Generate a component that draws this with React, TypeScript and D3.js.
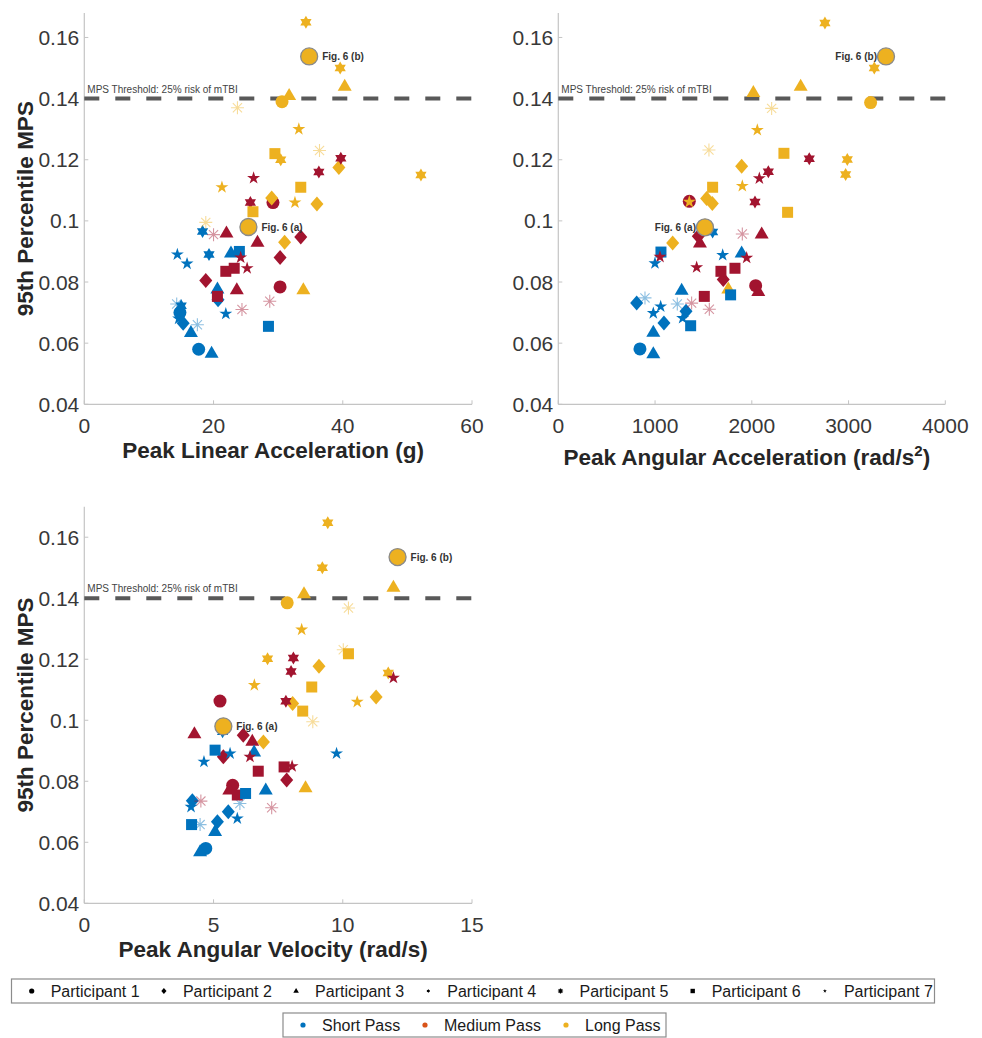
import React from "react"
import * as d3 from "d3"

// participant -> marker, pass -> colour
const participants = [1, 2, 3, 4, 5, 6, 7]
const passTypes = ["S", "M", "L"]
const passNames = ["Short Pass", "Medium Pass", "Long Pass"]
const passColors = { S: "#0072BD", M: "#A2142F", L: "#EDB120" }
const legendPassColors = ["#0072BD", "#D95319", "#EDB120"]

const yTicks = [0.04, 0.06, 0.08, 0.1, 0.12, 0.14, 0.16]
const mpsThreshold = 0.14

// [participant, pass, peak linear acceleration (g), 95th percentile MPS]
const plaPoints = [
    [4, "L", 34.3, 0.165], [4, "L", 39.6, 0.15], [3, "L", 40.3, 0.144], [3, "L", 31.7, 0.141],
    [1, "L", 30.6, 0.139], [5, "L", 23.7, 0.137], [7, "L", 33.2, 0.13], [5, "L", 36.4, 0.123],
    [6, "L", 29.5, 0.122], [4, "L", 30.4, 0.12], [2, "L", 39.4, 0.1175], [4, "L", 52.1, 0.115],
    [7, "L", 21.3, 0.111], [6, "L", 33.5, 0.111], [2, "L", 29.0, 0.1075], [7, "L", 32.6, 0.106],
    [2, "L", 36.0, 0.1055], [6, "L", 26.1, 0.103], [5, "L", 18.8, 0.0995], [2, "L", 31.0, 0.093],
    [3, "L", 33.9, 0.0775],
    [4, "M", 39.7, 0.1205], [4, "M", 36.3, 0.116], [7, "M", 26.2, 0.114], [4, "M", 25.7, 0.106],
    [1, "M", 29.2, 0.106], [5, "M", 20.0, 0.0955], [3, "M", 22.0, 0.096], [3, "M", 26.8, 0.093],
    [2, "M", 33.5, 0.0947], [7, "M", 24.2, 0.088], [2, "M", 30.3, 0.088], [7, "M", 25.2, 0.0845],
    [6, "M", 23.2, 0.0845], [6, "M", 21.9, 0.0835], [2, "M", 18.8, 0.0805], [1, "M", 30.3, 0.0784],
    [3, "M", 23.6, 0.0775], [6, "M", 20.6, 0.0753], [5, "M", 28.7, 0.0737], [5, "M", 24.4, 0.071],
    [4, "S", 18.3, 0.0965], [7, "S", 14.4, 0.089], [7, "S", 15.9, 0.086], [4, "S", 19.3, 0.089],
    [3, "S", 22.7, 0.0895], [6, "S", 24.0, 0.09], [3, "S", 20.6, 0.0777], [2, "S", 20.7, 0.0742],
    [7, "S", 21.9, 0.0696], [5, "S", 14.3, 0.0728], [4, "S", 15.0, 0.0722], [1, "S", 14.8, 0.07],
    [7, "S", 14.6, 0.068], [2, "S", 15.3, 0.0665], [5, "S", 17.5, 0.066], [3, "S", 16.5, 0.0635],
    [6, "S", 28.5, 0.0655], [1, "S", 17.7, 0.058], [3, "S", 19.7, 0.0567],
]

// [participant, pass, peak angular acceleration (rad/s^2), MPS]
const paaPoints = [
    [4, "L", 2756, 0.1647], [4, "L", 3266, 0.15], [3, "L", 2505, 0.144], [3, "L", 2016, 0.142],
    [1, "L", 3228, 0.1387], [5, "L", 2205, 0.1368], [7, "L", 2057, 0.1297], [5, "L", 1557, 0.1232],
    [6, "L", 2332, 0.1221], [4, "L", 2987, 0.1201], [2, "L", 1895, 0.1179], [4, "L", 2970, 0.1152],
    [6, "L", 1595, 0.111], [7, "L", 1902, 0.1114], [2, "L", 1533, 0.1073], [2, "L", 1592, 0.1057],
    [6, "L", 2370, 0.1028], [2, "L", 1182, 0.0928], [3, "L", 1757, 0.0777],
    [4, "M", 2594, 0.1203], [4, "M", 2171, 0.1161], [7, "M", 2078, 0.1139], [4, "M", 2033, 0.1062],
    [1, "M", 1354, 0.1064], [5, "M", 1902, 0.0957], [3, "M", 2102, 0.0957], [2, "M", 1447, 0.095],
    [3, "M", 1464, 0.0928], [7, "M", 1051, 0.0882], [7, "M", 1947, 0.0879], [7, "M", 1430, 0.0848],
    [6, "M", 1826, 0.0845], [6, "M", 1681, 0.0835], [2, "M", 1705, 0.0808], [1, "M", 2040, 0.0788],
    [3, "M", 2067, 0.0769], [6, "M", 1509, 0.0753], [5, "M", 1378, 0.0731], [5, "M", 1561, 0.0711],
    [7, "L", 1354, 0.1062],
    [4, "S", 1595, 0.0964], [6, "S", 1061, 0.0898], [7, "S", 999, 0.0861], [7, "S", 1699, 0.0888],
    [3, "S", 1895, 0.0895], [3, "S", 1275, 0.0773], [6, "S", 1781, 0.0758], [2, "S", 810, 0.0731],
    [5, "S", 896, 0.0748], [7, "S", 1058, 0.072], [7, "S", 982, 0.0698], [5, "S", 1230, 0.0728],
    [2, "S", 1320, 0.0704], [7, "S", 1285, 0.0682], [2, "S", 1092, 0.0666], [6, "S", 1368, 0.0657],
    [3, "S", 982, 0.0636], [1, "S", 844, 0.0581], [3, "S", 982, 0.0565],
]

// [participant, pass, peak angular velocity (rad/s), MPS]
const pavPoints = [
    [4, "L", 9.42, 0.1647], [4, "L", 9.21, 0.15], [3, "L", 11.96, 0.1436], [3, "L", 8.5, 0.1415],
    [1, "L", 7.85, 0.1385], [5, "L", 10.22, 0.1368], [7, "L", 8.41, 0.1297], [5, "L", 10.02, 0.1231],
    [6, "L", 10.22, 0.1218], [4, "L", 7.09, 0.1202], [2, "L", 9.08, 0.1177], [4, "L", 11.76, 0.1155],
    [7, "L", 6.58, 0.1115], [6, "L", 8.8, 0.1109], [2, "L", 11.29, 0.1076], [2, "L", 8.06, 0.1055],
    [7, "L", 10.56, 0.106], [6, "L", 8.45, 0.103], [5, "L", 8.84, 0.0995], [2, "L", 6.93, 0.0929],
    [3, "L", 8.56, 0.0779],
    [4, "M", 8.09, 0.1204], [4, "M", 8.0, 0.116], [7, "M", 11.96, 0.1139], [1, "M", 5.25, 0.1063],
    [4, "M", 7.8, 0.1062], [3, "M", 4.26, 0.0956], [2, "M", 6.15, 0.0951], [3, "M", 6.5, 0.0931],
    [2, "M", 5.38, 0.088], [7, "M", 6.41, 0.088], [6, "M", 7.73, 0.0847], [7, "M", 8.04, 0.0849],
    [6, "M", 6.73, 0.0833], [2, "M", 7.83, 0.0804], [1, "M", 5.74, 0.0787], [3, "M", 5.61, 0.0771],
    [6, "M", 5.92, 0.0755], [5, "M", 4.51, 0.0735], [5, "M", 7.25, 0.0713],
    [4, "S", 5.35, 0.0962], [6, "S", 5.06, 0.0902], [7, "S", 4.63, 0.0864], [7, "S", 5.64, 0.0891],
    [3, "S", 6.57, 0.0896], [3, "S", 7.02, 0.0771], [6, "S", 6.24, 0.076], [2, "S", 4.18, 0.0736],
    [7, "S", 4.13, 0.0716], [5, "S", 6.02, 0.0727], [7, "S", 5.92, 0.0678], [2, "S", 5.57, 0.07],
    [6, "S", 4.15, 0.0658], [5, "S", 4.48, 0.0658], [2, "S", 5.15, 0.0667], [3, "S", 5.06, 0.0635],
    [1, "S", 4.7, 0.058], [3, "S", 4.48, 0.0569], [7, "S", 9.76, 0.0891],
]

// highlighted impacts shown in Fig. 6: [label, x, MPS, label side]
const plaFigs = [["Fig. 6 (a)", 25.4, 0.098, "right"], ["Fig. 6 (b)", 34.8, 0.1538, "right"]]
const paaFigs = [["Fig. 6 (a)", 1516, 0.0979, "left"], ["Fig. 6 (b)", 3387, 0.1538, "left"]]
const pavFigs = [["Fig. 6 (a)", 5.38, 0.098, "right"], ["Fig. 6 (b)", 12.12, 0.1535, "right"]]

const FONT = "'Liberation Sans', Arial, Helvetica, sans-serif"

function starPath(n, R, r) {
    const pts = d3.range(2 * n).map(i => {
        const a = -Math.PI / 2 + (i * Math.PI) / n
        const rad = i % 2 ? r : R
        return [rad * Math.cos(a), rad * Math.sin(a)]
    })
    return "M" + pts.map(p => p[0].toFixed(2) + "," + p[1].toFixed(2)).join("L") + "Z"
}

function markerPath(p, k = 1) {
    switch (p) {
        case 1:
            return d3.symbol(d3.symbolCircle, Math.PI * (6.5 * k) ** 2)()
        case 2: {
            const w = 6.5 * k, h = 7.5 * k
            return `M0,${-h}L${w},0L0,${h}L${-w},0Z`
        }
        case 3: {
            const w = 7 * k
            return `M0,${-7.5 * k}L${w},${4.5 * k}L${-w},${4.5 * k}Z`
        }
        case 4:
            return starPath(6, 6.5 * k, (6.5 * k) / Math.sqrt(3))
        case 5: {
            const R = 6.5 * k
            return d3.range(4).map(i => {
                const a = (i * Math.PI) / 4
                const dx = R * Math.cos(a), dy = R * Math.sin(a)
                return `M${-dx},${-dy}L${dx},${dy}`
            }).join("")
        }
        case 6: {
            const s = 5.5 * k
            return `M${-s},${-s}H${s}V${s}H${-s}Z`
        }
        default:
            return starPath(5, 6.8 * k, 6.8 * k * 0.382)
    }
}

function Marker({ p, color, x, y, k = 1, faint = true }) {
    if (p === 5) {
        return <path d={markerPath(p, k)} transform={`translate(${x},${y})`}
            fill="none" stroke={color} strokeWidth={1.1} strokeOpacity={faint ? 0.45 : 1} />
    }
    return <path d={markerPath(p, k)} transform={`translate(${x},${y})`} fill={color} />
}

const fmtY = d => String(Math.round(d * 100) / 100)

function Panel({ left, right, top, bottom, xDomain, xTicks, yMax, points, figs, xLabel, labelBaseline, yLabel }) {
    const x = d3.scaleLinear().domain(xDomain).range([left, right])
    const y = d3.scaleLinear().domain([0.04, yMax]).range([bottom, top])
    const sorted = [...points].sort((a, b) => a[0] - b[0])
    const axisColor = "#c4c4c4"
    const tickColor = "#383838"
    return (
        <g>
            <line x1={left} x2={left} y1={top} y2={bottom} stroke={axisColor} strokeWidth={1.2} />
            <line x1={left} x2={right} y1={bottom} y2={bottom} stroke={axisColor} strokeWidth={1.2} />
            {yTicks.map(t => (
                <g key={"y" + t}>
                    <line x1={left} x2={left + 4} y1={y(t)} y2={y(t)} stroke={axisColor} />
                    <text x={left - 5} y={y(t) + 7.5} textAnchor="end" fontSize={21} fill={tickColor} fontFamily={FONT}>{fmtY(t)}</text>
                </g>
            ))}
            {xTicks.map(t => (
                <g key={"x" + t}>
                    <line x1={x(t)} x2={x(t)} y1={bottom} y2={bottom - 4} stroke={axisColor} />
                    <text x={x(t)} y={bottom + 29} textAnchor="middle" fontSize={21} fill={tickColor} fontFamily={FONT}>{t}</text>
                </g>
            ))}
            <line x1={left} x2={right} y1={y(mpsThreshold)} y2={y(mpsThreshold)}
                stroke="#595959" strokeWidth={4} strokeDasharray="15 16" />
            <text x={left + 3} y={y(mpsThreshold) - 6} fontSize={10} fill="#444" fontFamily={FONT}>
                MPS Threshold: 25% risk of mTBI
            </text>
            {sorted.map((d, i) => (
                <Marker key={i} p={d[0]} color={passColors[d[1]]} x={x(d[2])} y={y(d[3])} />
            ))}
            {figs.map(f => (
                <g key={f[0]}>
                    <circle cx={x(f[1])} cy={y(f[2])} r={8.5} fill={passColors.L} stroke="#8a8a8a" strokeWidth={1.3} />
                    <text x={f[3] === "right" ? x(f[1]) + 13 : x(f[1]) - 9} y={y(f[2]) + 4}
                        textAnchor={f[3] === "right" ? "start" : "end"} fontSize={10} fontWeight="bold"
                        fill="#333" fontFamily={FONT}>{f[0]}</text>
                </g>
            ))}
            <text x={(left + right) / 2 - 5} y={labelBaseline} textAnchor="middle" fontSize={22.5}
                fontWeight="bold" fill="#262626" fontFamily={FONT}>{xLabel}</text>
            {yLabel && (
                <text transform={`translate(33,${(top + bottom) / 2}) rotate(-90)`} textAnchor="middle"
                    fontSize={22.5} fontWeight="bold" fill="#262626" fontFamily={FONT}>95th Percentile MPS</text>
            )}
        </g>
    )
}

function Legends() {
    const step = 132.2
    return (
        <g fontFamily={FONT} fontSize={16} fill="#1a1a1a">
            <rect x={11.5} y={979} width={923} height={24} fill="#fff" stroke="#8c8c8c" strokeWidth={1.2} />
            {participants.map((p, i) => {
                const mx = 31.7 + i * step
                return (
                    <g key={p}>
                        <Marker p={p} color="#000" x={mx} y={991} k={p === 4 || p === 7 ? 0.3 : 0.4} faint={false} />
                        <text x={mx + 19} y={997}>Participant {p}</text>
                    </g>
                )
            })}
            <rect x={283} y={1013} width={383} height={24} fill="#fff" stroke="#8c8c8c" strokeWidth={1.2} />
            {passTypes.map((t, i) => {
                const mx = [303, 425, 566][i]
                return (
                    <g key={t}>
                        <circle cx={mx} cy={1025} r={2.6} fill={legendPassColors[i]} />
                        <text x={mx + 19} y={1031}>{passNames[i]}</text>
                    </g>
                )
            })}
        </g>
    )
}

export default function App() {
    return (
        <svg width={982} height={1038} style={{ position: "absolute", left: 0, top: 0, background: "#fff" }}>
            <Panel left={84.3} right={472} top={13} bottom={404.3} xDomain={[0, 60]} xTicks={[0, 20, 40, 60]}
                yMax={0.168} points={plaPoints} figs={plaFigs} xLabel="Peak Linear Acceleration (g)"
                labelBaseline={458} yLabel />
            <Panel left={558.3} right={945.3} top={13} bottom={404.3} xDomain={[0, 4000]}
                xTicks={[0, 1000, 2000, 3000, 4000]} yMax={0.168} points={paaPoints} figs={paaFigs}
                labelBaseline={465}
                xLabel={<>Peak Angular Acceleration (rad/s<tspan dy={-9} fontSize={15}>2</tspan><tspan dy={9}>)</tspan></>} />
            <Panel left={84.3} right={472} top={506.7} bottom={903.3} xDomain={[0, 15]} xTicks={[0, 5, 10, 15]}
                yMax={0.17} points={pavPoints} figs={pavFigs} xLabel="Peak Angular Velocity (rad/s)"
                labelBaseline={957} yLabel />
            <Legends />
        </svg>
    )
}
